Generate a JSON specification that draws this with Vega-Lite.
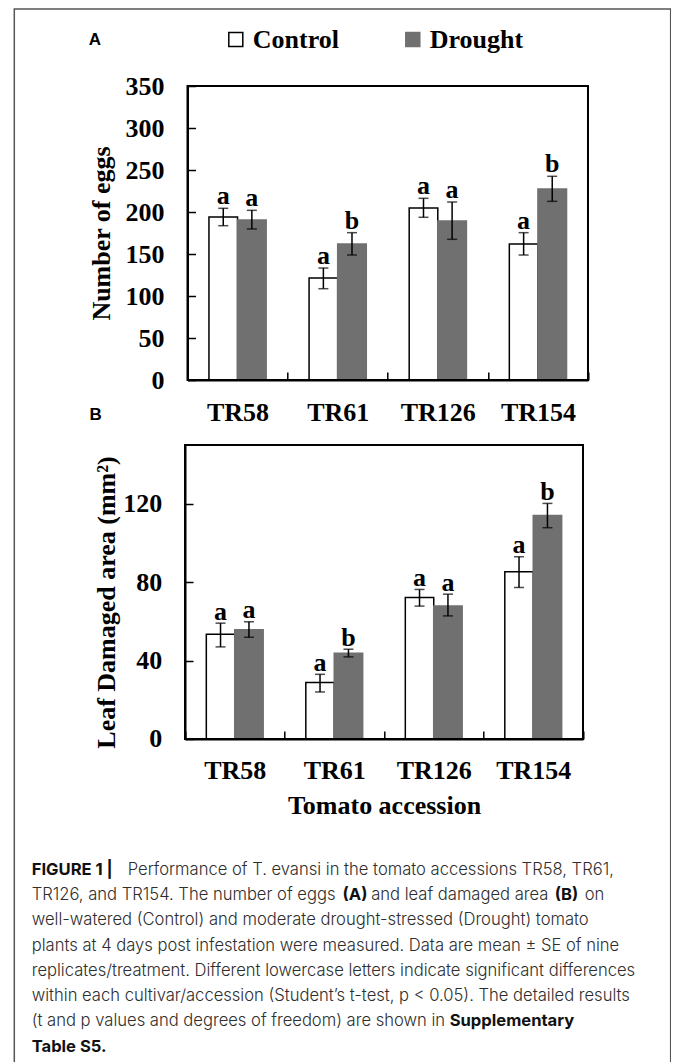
{
  "$schema": "https://vega.github.io/schema/vega-lite/v6.json",
  "background": "white",
  "padding": {"left": 14.3, "top": 9, "right": 0, "bottom": 0},
  "width": 656.4,
  "height": 1056,
  "datasets": {
    "eggs": [
      {"accession": "TR58", "treatment": "Control", "mean": 194, "lo": 183.7, "hi": 204.4, "sig": "a"},
      {"accession": "TR58", "treatment": "Drought", "mean": 190.5, "lo": 179.8, "hi": 202, "sig": "a"},
      {"accession": "TR61", "treatment": "Control", "mean": 121.4, "lo": 108.7, "hi": 133.3, "sig": "a"},
      {"accession": "TR61", "treatment": "Drought", "mean": 162, "lo": 148.8, "hi": 175.4, "sig": "b"},
      {"accession": "TR126", "treatment": "Control", "mean": 204.8, "lo": 193.7, "hi": 216.3, "sig": "a"},
      {"accession": "TR126", "treatment": "Drought", "mean": 189.3, "lo": 167.5, "hi": 211.9, "sig": "a"},
      {"accession": "TR154", "treatment": "Control", "mean": 162, "lo": 148.8, "hi": 175.4, "sig": "a"},
      {"accession": "TR154", "treatment": "Drought", "mean": 227.4, "lo": 212.7, "hi": 242.5, "sig": "b"}
    ],
    "leaf": [
      {"accession": "TR58", "treatment": "Control", "mean": 53.5, "lo": 47, "hi": 59.1, "sig": "a"},
      {"accession": "TR58", "treatment": "Drought", "mean": 55.8, "lo": 51.9, "hi": 59.8, "sig": "a"},
      {"accession": "TR61", "treatment": "Control", "mean": 28.8, "lo": 24, "hi": 33, "sig": "a"},
      {"accession": "TR61", "treatment": "Drought", "mean": 43.8, "lo": 41.9, "hi": 45.8, "sig": "b"},
      {"accession": "TR126", "treatment": "Control", "mean": 72.2, "lo": 67.8, "hi": 76.3, "sig": "a"},
      {"accession": "TR126", "treatment": "Drought", "mean": 67.9, "lo": 62.8, "hi": 73.9, "sig": "a"},
      {"accession": "TR154", "treatment": "Control", "mean": 85.3, "lo": 77.3, "hi": 93, "sig": "a"},
      {"accession": "TR154", "treatment": "Drought", "mean": 114, "lo": 107.8, "hi": 120.2, "sig": "b"}
    ],
    "caption": [
      {"line": 1, "part": "head", "text": "FIGURE 1 |"},
      {"line": 1, "part": "rest", "text": "Performance of T. evansi in the tomato accessions TR58, TR61,"},
      {"line": 2, "part": "plain", "text": "TR126, and TR154. The number of eggs"},
      {"line": 2, "part": "refA", "text": "(A)"},
      {"line": 2, "part": "mid", "text": "and leaf damaged area"},
      {"line": 2, "part": "refB", "text": "(B)"},
      {"line": 2, "part": "end", "text": "on"},
      {"line": 3, "part": "plain", "text": "well-watered (Control) and moderate drought-stressed (Drought) tomato"},
      {"line": 4, "part": "plain", "text": "plants at 4 days post infestation were measured. Data are mean ± SE of nine"},
      {"line": 5, "part": "plain", "text": "replicates/treatment. Different lowercase letters indicate significant differences"},
      {"line": 6, "part": "plain", "text": "within each cultivar/accession (Student’s t-test, p < 0.05). The detailed results"},
      {"line": 7, "part": "plain", "text": "(t and p values and degrees of freedom) are shown in"},
      {"line": 7, "part": "tail", "text": "Supplementary"},
      {"line": 8, "part": "head", "text": "Table S5."}
    ]
  },
  "resolve": {
    "scale": {"x": "independent", "y": "independent", "xOffset": "independent"},
    "axis": {"x": "independent", "y": "independent"}
  },
  "layer": [
    {
      "data": {"name": "eggs"},
      "layer": [
        {
          "mark": {"type": "bar", "strokeWidth": 1.5},
          "encoding": {
            "x": {"field": "accession", "type": "nominal", "title": "B",
                  "scale": {"domain": ["TR58", "TR61", "TR126", "TR154"], "range": [173.2, 573.7], "paddingInner": 0, "paddingOuter": 0},
                  "axis": {"orient": "bottom", "offset": -685, "labelAngle": 0, "labelFontSize": 26, "labelPadding": 27.7, "tickBand": "extent", "tickSize": -8, "labelOverlap": false,
                           "titleFont": "Liberation Sans", "titleFontSize": 17, "titleFontWeight": "bold", "titleX": 74.7, "titleY": 39, "titleAlign": "left", "titleBaseline": "alphabetic", "titleAnchor": "start"}},
            "xOffset": {"field": "treatment", "type": "nominal", "scale": {"domain": ["Control", "Drought"], "paddingInner": 0, "paddingOuter": 0.75}},
            "y": {"field": "mean", "type": "quantitative", "title": "Number of eggs",
                  "scale": {"domain": [0, 350], "nice": false, "range": [371, 77]},
                  "axis": {"orient": "left", "offset": -173.2, "values": [0, 50, 100, 150, 200, 250, 300, 350], "labelFontSize": 26, "labelPadding": 31.5, "tickSize": -8, "titleFontSize": 26, "titlePadding": 10}},
            "fill": {"field": "treatment", "type": "nominal",
                     "scale": {"domain": ["Control", "Drought"], "range": ["#ffffff", "#707070"]},
                     "legend": {"title": "A", "orient": "none", "legendX": 74.5, "legendY": 17.5, "direction": "horizontal",
                                "titleOrient": "left", "titleFont": "Liberation Sans", "titleFontSize": 17, "titleFontWeight": "bold", "titleColor": "black", "titlePadding": 121,
                                "labelFont": "Liberation Serif", "labelFontSize": 26, "labelFontWeight": "bold", "labelColor": "black", "labelOffset": 4,
                                "symbolType": "square", "symbolSize": 196, "symbolStrokeWidth": 1.5, "columnPadding": 60, "padding": 0}},
            "stroke": {"field": "treatment", "type": "nominal",
                       "scale": {"domain": ["Control", "Drought"], "range": ["#000000", "#707070"]}}
          }
        },
        {
          "mark": {"type": "rule", "color": "black", "strokeWidth": 1.5},
          "encoding": {
            "x": {"field": "accession", "type": "nominal", "title": "B"},
            "xOffset": {"field": "treatment", "type": "nominal"},
            "y": {"field": "lo", "type": "quantitative", "title": "Number of eggs"},
            "y2": {"field": "hi"}
          }
        },
        {
          "mark": {"type": "tick", "color": "black", "thickness": 1.5, "size": 10},
          "encoding": {
            "x": {"field": "accession", "type": "nominal", "title": "B"},
            "xOffset": {"field": "treatment", "type": "nominal"},
            "y": {"field": "lo", "type": "quantitative", "title": "Number of eggs"}
          }
        },
        {
          "mark": {"type": "tick", "color": "black", "thickness": 1.5, "size": 10},
          "encoding": {
            "x": {"field": "accession", "type": "nominal", "title": "B"},
            "xOffset": {"field": "treatment", "type": "nominal"},
            "y": {"field": "hi", "type": "quantitative", "title": "Number of eggs"}
          }
        },
        {
          "mark": {"type": "text", "font": "Liberation Serif", "fontWeight": "bold", "fontSize": 26, "baseline": "alphabetic", "dy": -4, "color": "black"},
          "encoding": {
            "x": {"field": "accession", "type": "nominal", "title": "B"},
            "xOffset": {"field": "treatment", "type": "nominal"},
            "y": {"field": "hi", "type": "quantitative", "title": "Number of eggs"},
            "text": {"field": "sig"}
          }
        },
        {
          "data": {"values": [{"frame": "A"}]},
          "mark": {"type": "rect", "filled": false, "color": "black", "strokeWidth": 2},
          "encoding": {
            "x": {"datum": "TR58", "type": "nominal", "bandPosition": 0, "title": "B"},
            "x2": {"datum": "TR154", "bandPosition": 1},
            "y": {"datum": 0, "type": "quantitative", "title": "Number of eggs"},
            "y2": {"datum": 350}
          }
        }
      ]
    },
    {
      "data": {"name": "leaf"},
      "layer": [
        {
          "mark": {"type": "bar", "strokeWidth": 1.5},
          "encoding": {
            "x": {"field": "accession", "type": "nominal", "title": "Tomato accession",
                  "scale": {"domain": ["TR58", "TR61", "TR126", "TR154"], "range": [170.7, 568.7], "paddingInner": 0, "paddingOuter": 0},
                  "axis": {"orient": "bottom", "offset": -326, "labelAngle": 0, "labelFontSize": 26, "labelPadding": 27, "tickBand": "extent", "tickSize": -8, "labelOverlap": false, "titleFontSize": 26, "titlePadding": 9}},
            "xOffset": {"field": "treatment", "type": "nominal", "scale": {"domain": ["Control", "Drought"], "paddingInner": 0, "paddingOuter": 0.75}},
            "y": {"field": "mean", "type": "quantitative", "title": "Leaf Damaged area (mm²)",
                  "scale": {"domain": [0, 150], "nice": false, "range": [730, 436]},
                  "axis": {"orient": "left", "offset": -170.7, "values": [0, 40, 80, 120], "labelFontSize": 26, "labelPadding": 31.3, "tickSize": -8, "titleFontSize": 26, "titlePadding": 3, "titleY": 593}},
            "fill": {"field": "treatment", "type": "nominal",
                     "scale": {"domain": ["Control", "Drought"], "range": ["#ffffff", "#707070"]}},
            "stroke": {"field": "treatment", "type": "nominal",
                       "scale": {"domain": ["Control", "Drought"], "range": ["#000000", "#707070"]}}
          }
        },
        {
          "mark": {"type": "rule", "color": "black", "strokeWidth": 1.5},
          "encoding": {
            "x": {"field": "accession", "type": "nominal", "title": "Tomato accession"},
            "xOffset": {"field": "treatment", "type": "nominal"},
            "y": {"field": "lo", "type": "quantitative", "title": "Leaf Damaged area (mm²)"},
            "y2": {"field": "hi"}
          }
        },
        {
          "mark": {"type": "tick", "color": "black", "thickness": 1.5, "size": 10},
          "encoding": {
            "x": {"field": "accession", "type": "nominal", "title": "Tomato accession"},
            "xOffset": {"field": "treatment", "type": "nominal"},
            "y": {"field": "lo", "type": "quantitative", "title": "Leaf Damaged area (mm²)"}
          }
        },
        {
          "mark": {"type": "tick", "color": "black", "thickness": 1.5, "size": 10},
          "encoding": {
            "x": {"field": "accession", "type": "nominal", "title": "Tomato accession"},
            "xOffset": {"field": "treatment", "type": "nominal"},
            "y": {"field": "hi", "type": "quantitative", "title": "Leaf Damaged area (mm²)"}
          }
        },
        {
          "mark": {"type": "text", "font": "Liberation Serif", "fontWeight": "bold", "fontSize": 26, "baseline": "alphabetic", "dy": -3.5, "color": "black"},
          "encoding": {
            "x": {"field": "accession", "type": "nominal", "title": "Tomato accession"},
            "xOffset": {"field": "treatment", "type": "nominal"},
            "y": {"field": "hi", "type": "quantitative", "title": "Leaf Damaged area (mm²)"},
            "text": {"field": "sig"}
          }
        },
        {
          "data": {"values": [{"frame": "B"}]},
          "mark": {"type": "rect", "filled": false, "color": "black", "strokeWidth": 2},
          "encoding": {
            "x": {"datum": "TR58", "type": "nominal", "bandPosition": 0, "title": "Tomato accession"},
            "x2": {"datum": "TR154", "bandPosition": 1},
            "y": {"datum": 0, "type": "quantitative", "title": "Leaf Damaged area (mm²)"},
            "y2": {"datum": 150}
          }
        }
      ]
    },
    {
      "data": {"name": "caption"},
      "encoding": {
        "y": {"field": "line", "type": "quantitative", "scale": {"domain": [1, 8], "range": [866, 1042.7]}, "axis": null},
        "x": {"value": 17.4},
        "text": {"field": "text"}
      },
      "layer": [
        {"transform": [{"filter": "datum.part === 'plain'"}],
         "mark": {"type": "text", "align": "left", "baseline": "alphabetic", "font": "Inter", "fontSize": 16.6, "fontWeight": 300, "color": "#2e2e2e"}},
        {"transform": [{"filter": "datum.part === 'rest'"}],
         "mark": {"type": "text", "align": "left", "baseline": "alphabetic", "font": "Inter", "fontSize": 16.6, "fontWeight": 300, "color": "#2e2e2e", "dx": 96}},
        {"transform": [{"filter": "datum.part === 'mid'"}],
         "mark": {"type": "text", "align": "left", "baseline": "alphabetic", "font": "Inter", "fontSize": 16.6, "fontWeight": 300, "color": "#2e2e2e", "dx": 339.5}},
        {"transform": [{"filter": "datum.part === 'end'"}],
         "mark": {"type": "text", "align": "left", "baseline": "alphabetic", "font": "Inter", "fontSize": 16.6, "fontWeight": 300, "color": "#2e2e2e", "dx": 553}},
        {"transform": [{"filter": "datum.part === 'head'"}],
         "mark": {"type": "text", "align": "left", "baseline": "alphabetic", "font": "Inter", "fontSize": 16.6, "fontWeight": "bold", "color": "#111111"}},
        {"transform": [{"filter": "datum.part === 'refA'"}],
         "mark": {"type": "text", "align": "left", "baseline": "alphabetic", "font": "Inter", "fontSize": 16.6, "fontWeight": "bold", "color": "#111111", "dx": 310.9}},
        {"transform": [{"filter": "datum.part === 'refB'"}],
         "mark": {"type": "text", "align": "left", "baseline": "alphabetic", "font": "Inter", "fontSize": 16.6, "fontWeight": "bold", "color": "#111111", "dx": 523}},
        {"transform": [{"filter": "datum.part === 'tail'"}],
         "mark": {"type": "text", "align": "left", "baseline": "alphabetic", "font": "Inter", "fontSize": 16.6, "fontWeight": "bold", "color": "#111111", "dx": 418}}
      ]
    }
  ],
  "config": {
    "view": {"stroke": "#555555", "strokeWidth": 1.5},
    "axis": {"grid": false, "labelColor": "black", "titleColor": "black", "domainColor": "black", "domainWidth": 2, "tickColor": "black", "tickWidth": 1.5,
             "labelFont": "Liberation Serif", "labelFontWeight": "bold", "titleFont": "Liberation Serif", "titleFontWeight": "bold"}
  }
}
